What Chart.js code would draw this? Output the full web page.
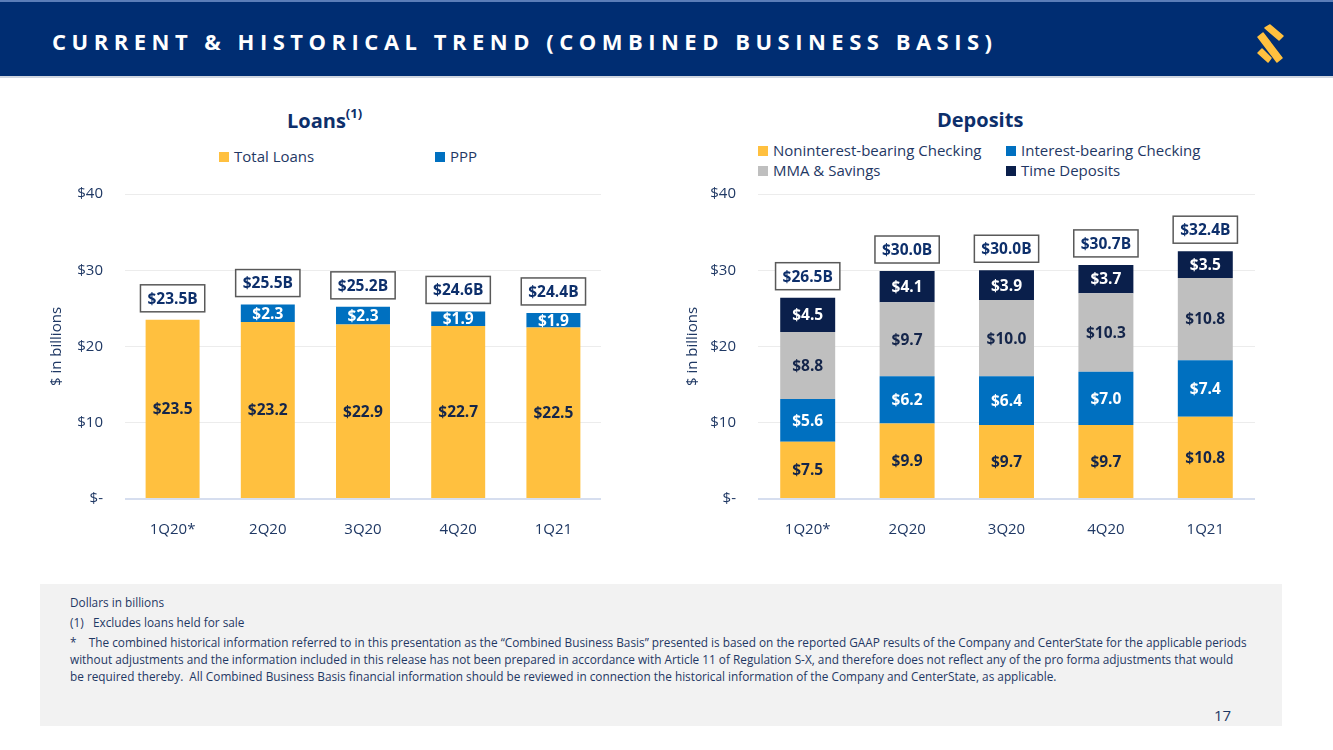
<!DOCTYPE html>
<html lang="en">
<head>
<meta charset="UTF-8">
<title>Current & Historical Trend</title>
<script src="https://cdn.jsdelivr.net/npm/chart.js"></script>
<style>
  html, body { margin: 0; padding: 0; background: #fff; }
  body { width: 1333px; height: 750px; position: relative; overflow: hidden; font-family: "Open Sans", sans-serif; color: #1F3864; }
  .header { position: absolute; left: 0; top: 0; width: 1333px; height: 78px; background: #002D72; border-top: 2px solid #5B7DB8; box-sizing: border-box; border-bottom: 2px solid #D0D6E0; }
  .header h1 { position: absolute; left: 52px; top: 24px; margin: 0; font: bold 22px "Open Sans", sans-serif; letter-spacing: 5.5px; color: #fff; white-space: nowrap; }
  .logo { position: absolute; left: 1255px; top: 20px; }
  .ctitle { position: absolute; top: 106px; font: bold 20px "Open Sans", sans-serif; color: #0D2F6B; white-space: nowrap; }
  .ctitle sup { font-size: 13px; position: relative; top: -2px; }
  .legend { position: absolute; font-size: 15px; color: #1F3864; white-space: nowrap; }
  .legend .item { position: absolute; }
  .legend .sw { display: inline-block; width: 10px; height: 10px; margin-right: 5px; vertical-align: 0px; }
  canvas { position: absolute; }
  .foot { position: absolute; left: 40px; top: 584px; width: 1242px; height: 142px; background: #F2F2F2; font-size: 11.8px; color: #1F3864; }
  .foot div { position: absolute; left: 30px; white-space: nowrap; }
  .page { position: absolute; left: 1214px; top: 705px; font-size: 15px; color: #1F3864; }
</style>
</head>
<body>
<div class="header">
  <h1>CURRENT &amp; HISTORICAL TREND (COMBINED BUSINESS BASIS)</h1>
  <svg class="logo" width="32" height="44" viewBox="0 0 32 44">
    <g fill="#FFC03F" stroke="#FFC03F" stroke-width="1.5" stroke-linejoin="round">
      <polygon points="10,6 15,3 28,14 24,18"/>
      <polygon points="3,15 8,11 27,36 22,40"/>
      <polygon points="3,31 7,27 16,36 13,40"/>
    </g>
  </svg>
</div>

<div class="ctitle" style="left:287px;">Loans<sup>(1)</sup></div>
<div class="ctitle" style="left:937px;">Deposits</div>

<div class="legend" id="loansLegend"></div>
<div class="legend" id="depositsLegend"></div>

<canvas id="loansChart" width="580" height="387" style="left:40px; top:163px;"></canvas>
<canvas id="depositsChart" width="590" height="387" style="left:680px; top:163px;"></canvas>

<div class="foot">
  <div style="top:10px;">Dollars in billions</div>
  <div style="top:30px;">(1)&nbsp;&nbsp;&nbsp;Excludes loans held for sale</div>
  <div style="top:50px;">*&nbsp;&nbsp;&nbsp;&nbsp;The combined historical information referred to in this presentation as the “Combined Business Basis” presented is based on the reported GAAP results of the Company and CenterState for the applicable periods</div>
  <div style="top:67px;">without adjustments and the information included in this release has not been prepared in accordance with Article 11 of Regulation S-X, and therefore does not reflect any of the pro forma adjustments that would</div>
  <div style="top:84px;">be required thereby.&nbsp; All Combined Business Basis financial information should be reviewed in connection the historical information of the Company and CenterState, as applicable.</div>
</div>
<div class="page">17</div>

<script>
// data
const quarters = ['1Q20*', '2Q20', '3Q20', '4Q20', '1Q21'];

const loanSeries = ['Total Loans', 'PPP'];
const totalLoans = [23.5, 23.2, 22.9, 22.7, 22.5];
const pppLoans = [null, 2.3, 2.3, 1.9, 1.9];
const loanTotals = [23.5, 25.5, 25.2, 24.6, 24.4];

const depositSeries = ['Noninterest-bearing Checking', 'Interest-bearing Checking', 'MMA & Savings', 'Time Deposits'];
const nonIntChecking = [7.5, 9.9, 9.7, 9.7, 10.8];
const intChecking = [5.6, 6.2, 6.4, 7.0, 7.4];
const mmaSavings = [8.8, 9.7, 10.0, 10.3, 10.8];
const timeDeposits = [4.5, 4.1, 3.9, 3.7, 3.5];
const depositTotals = [26.5, 30.0, 30.0, 30.7, 32.4];

const yTicks = [0, 10, 20, 30, 40];

// styles
const YELLOW = '#FFC03F', BLUE = '#0070C0', GRAY = '#BFBFBF', NAVY = '#0A1F4B';
const DARK_TEXT = '#14254A';
const AXIS_TEXT = '#1F3864';

Chart.defaults.font.family = '"Open Sans", sans-serif';

function buildLegend(el, names, colors, cells) {
    names.forEach((n, i) => {
        const d = document.createElement('div');
        d.className = 'item';
        d.style.left = cells[i][0] + 'px';
        d.style.top = cells[i][1] + 'px';
        d.innerHTML = '<span class="sw" style="background:' + colors[i] + '"></span>' + n.replace('&', '&amp;');
        el.appendChild(d);
    });
}

const loansLegendEl = document.getElementById('loansLegend');
loansLegendEl.style.left = '219px'; loansLegendEl.style.top = '146px';
buildLegend(loansLegendEl, loanSeries, [YELLOW, BLUE], [[0, 0], [216, 0]]);

const depLegendEl = document.getElementById('depositsLegend');
depLegendEl.style.left = '758px'; depLegendEl.style.top = '140px';
buildLegend(depLegendEl, depositSeries, [YELLOW, BLUE, GRAY, NAVY], [[0, 0], [248, 0], [0, 20], [248, 20]]);

// value labels inside segments + boxed totals above each stack
const barLabels = {
    id: 'barLabels',
    afterDatasetsDraw(chart, args, opts) {
        const ctx = chart.ctx;
        ctx.save();
        ctx.font = 'bold 15.5px "Open Sans", sans-serif';
        ctx.textAlign = 'center';
        ctx.textBaseline = 'middle';
        const tops = [];
        chart.data.datasets.forEach((ds, i) => {
            const meta = chart.getDatasetMeta(i);
            meta.data.forEach((bar, j) => {
                const v = ds.data[j];
                if (v == null) return;
                ctx.fillStyle = ds.labelColor;
                ctx.fillText('$' + v.toFixed(1), bar.x, (bar.y + bar.base) / 2 + 1);
                tops[j] = tops[j] === undefined ? bar.y : Math.min(tops[j], bar.y);
            });
        });
        const xs = chart.getDatasetMeta(0).data.map(b => b.x);
        opts.totals.forEach((t, j) => {
            const txt = '$' + t.toFixed(1) + 'B';
            const w = ctx.measureText(txt).width + 14;
            const h = 27;
            const bottom = tops[j] - 8;
            ctx.fillStyle = '#fff';
            ctx.fillRect(xs[j] - w / 2, bottom - h, w, h);
            ctx.strokeStyle = '#595959';
            ctx.lineWidth = 1.5;
            ctx.strokeRect(xs[j] - w / 2, bottom - h, w, h);
            ctx.fillStyle = '#0D2F6B';
            ctx.fillText(txt, xs[j], bottom - h / 2 + 1);
        });
        ctx.restore();
    }
};

function makeOptions(totals, yWidth, titlePad, rightPad) {
    return {
        responsive: false,
        animation: false,
        layout: { padding: { top: 13, right: rightPad, left: 0, bottom: 0 } },
        plugins: {
            legend: { display: false },
            tooltip: { enabled: false },
            barLabels: { totals: totals }
        },
        scales: {
            x: {
                stacked: true,
                grid: { display: false },
                border: { display: false },
                ticks: { color: AXIS_TEXT, font: { size: 15 }, padding: 14 },
                afterFit(scale) { scale.height = 51; }
            },
            y: {
                stacked: true,
                min: 0,
                max: 40,
                afterBuildTicks(scale) { scale.ticks = yTicks.map(v => ({ value: v })); },
                ticks: {
                    color: AXIS_TEXT,
                    font: { size: 15 },
                    padding: 22,
                    callback: v => v === 0 ? '$-' : '$' + v
                },
                grid: {
                    drawTicks: false,
                    color: c => c.tick && c.tick.value === 0 ? '#D6DEEF' : '#ECECEC',
                    lineWidth: c => c.tick && c.tick.value === 0 ? 2 : 1
                },
                border: { display: false },
                title: {
                    display: true,
                    text: '$ in billions',
                    color: AXIS_TEXT,
                    font: { size: 15 },
                    padding: { top: titlePad, bottom: 0 }
                },
                afterFit(scale) { scale.width = yWidth; }
            }
        }
    };
}

new Chart(document.getElementById('loansChart'), {
    type: 'bar',
    data: {
        labels: quarters,
        datasets: [
            { label: loanSeries[0], data: totalLoans, backgroundColor: YELLOW, labelColor: DARK_TEXT, barPercentage: 0.567, categoryPercentage: 1 },
            { label: loanSeries[1], data: pppLoans, backgroundColor: BLUE, labelColor: '#fff', barPercentage: 0.567, categoryPercentage: 1 }
        ]
    },
    options: makeOptions(loanTotals, 85, 8, 19),
    plugins: [barLabels]
});

new Chart(document.getElementById('depositsChart'), {
    type: 'bar',
    data: {
        labels: quarters,
        datasets: [
            { label: depositSeries[0], data: nonIntChecking, backgroundColor: YELLOW, labelColor: DARK_TEXT, barPercentage: 0.553, categoryPercentage: 1 },
            { label: depositSeries[1], data: intChecking, backgroundColor: BLUE, labelColor: '#fff', barPercentage: 0.553, categoryPercentage: 1 },
            { label: depositSeries[2], data: mmaSavings, backgroundColor: GRAY, labelColor: DARK_TEXT, barPercentage: 0.553, categoryPercentage: 1 },
            { label: depositSeries[3], data: timeDeposits, backgroundColor: NAVY, labelColor: '#fff', barPercentage: 0.553, categoryPercentage: 1 }
        ]
    },
    options: makeOptions(depositTotals, 78, 4, 15),
    plugins: [barLabels]
});
</script>
</body>
</html>
